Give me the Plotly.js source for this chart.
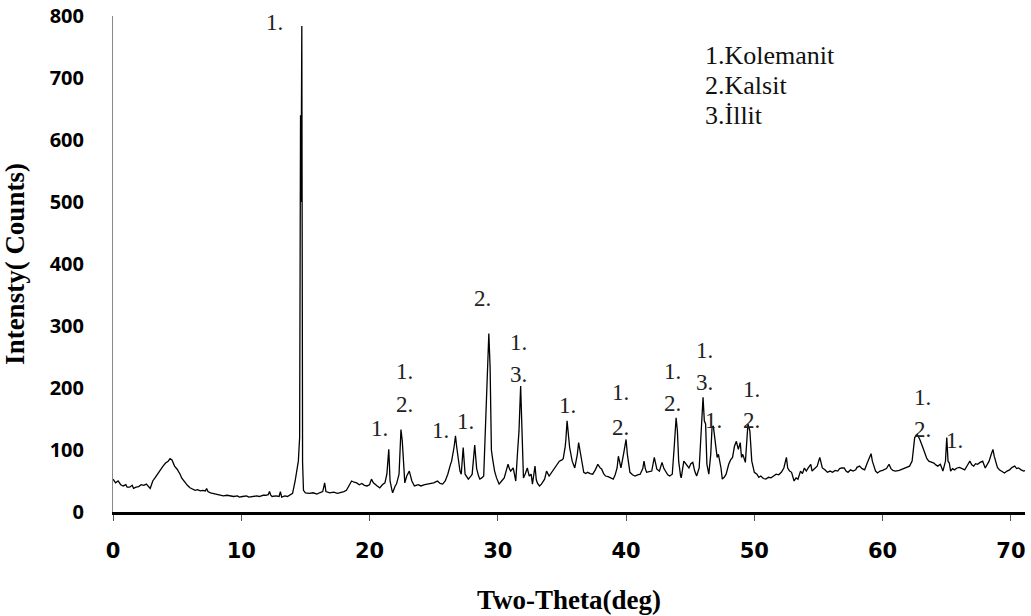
<!DOCTYPE html>
<html>
<head>
<meta charset="utf-8">
<script src="https://cdn.plot.ly/plotly-3.0.1.min.js"></script>
<style>html,body{margin:0;padding:0;background:#fff;}#chart{width:1031px;height:616px;}</style>
</head>
<body>
<div id="chart"></div>
<script>
// Two-theta (deg) and intensity (counts)
const twoTheta = [0.0,0.2,0.4,0.6,0.8,1.0,1.1,1.3,1.5,1.6,1.8,2.0,2.2,2.4,2.6,2.8,2.9,3.0,3.1,3.3,3.5,3.7,3.9,4.1,4.3,4.45,4.6,4.7,4.8,5.0,5.1,5.25,5.35,5.5,5.6,5.8,6.0,6.2,6.4,6.6,6.8,7.0,7.2,7.3,7.4,7.6,7.8,8.0,8.3,8.6,8.9,9.1,9.4,9.7,9.85,10.1,10.4,10.6,10.9,11.2,11.4,11.7,11.9,12.1,12.2,12.3,12.4,12.7,12.95,13.05,13.15,13.4,13.6,13.8,14.0,14.2,14.35,14.45,14.55,14.62,14.66,14.72,14.78,14.85,15.0,15.3,15.6,15.9,16.1,16.35,16.5,16.6,16.9,17.2,17.5,17.7,18.0,18.2,18.4,18.6,18.8,19.0,19.2,19.4,19.6,19.8,20.0,20.15,20.3,20.4,20.6,20.8,21.0,21.2,21.35,21.5,21.6,21.75,21.8,22.0,22.1,22.3,22.45,22.55,22.65,22.75,22.9,23.1,23.3,23.5,23.8,24.0,24.3,24.6,24.8,25.0,25.2,25.3,25.5,25.7,25.9,26.1,26.3,26.4,26.6,26.7,26.8,26.9,27.05,27.15,27.3,27.45,27.6,27.7,27.9,28.0,28.2,28.35,28.5,28.6,28.75,28.9,29.0,29.15,29.3,29.4,29.5,29.6,29.75,29.9,30.1,30.3,30.5,30.7,30.8,30.9,31.0,31.2,31.4,31.55,31.65,31.78,31.88,32.0,32.15,32.3,32.45,32.6,32.7,32.9,33.0,33.1,33.25,33.4,33.65,33.8,34.0,34.1,34.3,34.4,34.6,34.8,35.0,35.1,35.25,35.3,35.4,35.5,35.6,35.8,36.0,36.2,36.3,36.4,36.5,36.7,36.85,37.0,37.2,37.4,37.6,37.8,37.95,38.1,38.25,38.4,38.6,38.8,39.0,39.15,39.3,39.4,39.5,39.6,39.8,40.0,40.1,40.2,40.3,40.5,40.7,40.9,41.1,41.3,41.4,41.5,41.6,41.8,42.0,42.2,42.3,42.4,42.6,42.8,42.95,43.1,43.25,43.4,43.6,43.75,43.9,44.0,44.1,44.25,44.3,44.5,44.7,44.9,45.05,45.2,45.35,45.5,45.7,45.8,45.9,46.0,46.1,46.2,46.3,46.45,46.6,46.7,46.8,46.95,47.1,47.2,47.4,47.5,47.65,47.8,48.0,48.15,48.3,48.45,48.6,48.75,48.9,49.0,49.1,49.3,49.4,49.5,49.65,49.8,50.0,50.2,50.35,50.5,50.7,50.9,51.1,51.3,51.5,51.7,51.9,52.1,52.3,52.5,52.6,52.75,52.9,53.1,53.25,53.4,53.6,53.75,53.9,54.05,54.2,54.4,54.5,54.7,54.9,55.1,55.3,55.5,55.7,55.9,56.1,56.3,56.5,56.65,56.8,57.0,57.15,57.3,57.5,57.7,57.9,58.0,58.2,58.4,58.6,58.8,59.0,59.1,59.2,59.3,59.45,59.6,59.8,60.0,60.15,60.3,60.5,60.65,60.8,61.0,61.3,61.5,61.7,61.9,62.1,62.3,62.4,62.5,62.7,62.9,63.1,63.3,63.45,63.6,63.8,64.0,64.15,64.3,64.5,64.7,64.9,65.0,65.1,65.2,65.3,65.45,65.6,65.8,66.0,66.2,66.4,66.6,66.8,66.95,67.1,67.25,67.4,67.6,67.8,68.0,68.15,68.3,68.45,68.6,68.7,68.8,68.95,69.1,69.3,69.5,69.7,69.9,70.1,70.3,70.45,70.6,70.8,71.0,71.1];
const counts = [53,47,50,44,42,44,40,40,43,38,40,41,44,43,45,41,38,44,50,56,63,68,74,79,82,86,84,79,74,69,66,60,55,51,47,43,39,37,35,36,34,35,34,38,33,31,30,28,27,26,27,26,25,26,24,25,26,24,25,26,25,27,27,28,33,27,25,26,25,33,24,26,25,27,30,50,71,82,120,640,500,784,80,35,31,30,31,29,31,33,47,33,31,32,30,31,33,35,42,50,48,47,44,46,43,42,44,53,47,45,42,39,44,47,61,101,50,35,31,42,45,61,133,115,80,47,58,66,50,42,44,42,44,45,46,47,49,50,46,45,50,61,76,82,106,123,104,88,66,61,104,61,55,53,58,61,108,70,58,53,55,58,115,222,288,233,100,85,66,55,45,50,55,70,77,70,66,71,50,100,130,203,120,55,62,71,58,61,45,74,52,46,42,45,53,66,58,61,66,71,75,82,84,86,105,115,147,120,104,82,71,93,112,100,86,64,62,64,62,61,68,77,72,69,62,58,57,55,53,60,71,90,78,71,93,117,93,75,64,60,58,60,61,70,82,70,64,65,66,88,78,69,66,80,70,64,60,58,61,104,152,131,82,58,55,82,76,71,78,80,66,58,71,104,150,185,147,142,77,61,93,136,139,109,88,93,71,53,56,61,77,84,88,106,114,101,112,88,93,80,109,142,131,82,64,61,56,58,54,53,56,55,58,61,60,64,71,88,71,66,64,50,55,53,66,62,71,66,71,77,66,70,74,88,71,68,64,66,64,67,66,70,71,71,66,64,68,66,68,72,74,70,68,79,88,94,82,74,66,63,66,67,68,70,77,70,67,66,67,69,70,72,74,82,104,120,125,117,106,93,86,82,81,79,76,74,77,66,82,120,82,79,66,70,68,71,72,70,68,75,82,76,74,78,77,80,82,71,76,82,92,101,90,82,72,68,65,63,66,68,72,74,70,71,68,66,67];

// Peak labels (phase numbers) and their positions
const peakLabelX = [12.6,20.8,22.7,22.7,25.5,27.5,28.8,31.6,31.6,35.4,39.6,39.6,43.6,43.6,46.1,46.1,46.8,49.8,49.8,63.1,63.1,65.6];
const peakLabelY = [789,134,227,174,131,146,345,273,222,171,192,136,227,175,260,209,147,198,147,184,133,115];
const peakLabelText = ["1.","1.","1.","2.","1.","1.","2.","1.","3.","1.","1.","2.","1.","2.","1.","3.","1.","1.","2.","1.","2.","1."];

// Phase key
const phaseKey = ["1.Kolemanit","2.Kalsit","3.İllit"];
const phaseKeyY = [737,688,640];

const xTickVals = [0,10,20,30,40,50,60,70];
const yTickVals = [0,100,200,300,400,500,600,700,800];

const serif = "Liberation Serif, Times New Roman, serif";

const annotations = [];
for (let i = 0; i < peakLabelText.length; i++) {
  annotations.push({x: peakLabelX[i], y: peakLabelY[i], xref: 'x', yref: 'y', text: peakLabelText[i],
    showarrow: false, xanchor: 'center', yanchor: 'middle',
    font: {family: serif, size: 23, color: '#222'}});
}
for (let i = 0; i < phaseKey.length; i++) {
  annotations.push({x: 46.0, y: phaseKeyY[i], xref: 'x', yref: 'y', text: phaseKey[i],
    showarrow: false, xanchor: 'left', yanchor: 'middle',
    font: {family: serif, size: 26, color: '#111'}});
}

const trace = {x: twoTheta, y: counts, type: 'scatter', mode: 'lines',
  line: {color: '#000', width: 1.3}, hoverinfo: 'skip', cliponaxis: false};

const layout = {
  width: 1031, height: 616,
  margin: {l: 113, r: 6, t: 16, b: 104},
  paper_bgcolor: '#fff', plot_bgcolor: '#fff',
  showlegend: false,
  xaxis: {range: [0, 71.1], tickvals: xTickVals, ticktext: xTickVals.map(String),
    showgrid: false, zeroline: false, showline: true, linecolor: '#000', linewidth: 3,
    ticks: 'outside', ticklen: 6, tickwidth: 1, tickcolor: '#555',
    ticklabelstandoff: 12,
    tickfont: {family: 'DejaVu Sans', size: 21, color: '#000', weight: 'bold'},
    title: {text: 'Two-Theta(deg)', standoff: 28, font: {family: serif, size: 27, color: '#000', weight: 'bold'}}},
  yaxis: {range: [0, 800], tickvals: yTickVals, ticktext: yTickVals.map(String),
    showgrid: false, zeroline: false, showline: true, linecolor: '#888', linewidth: 1,
    ticks: '', ticklabelstandoff: 24, ticklabeloverflow: 'allow',
    tickfont: {family: 'Open Sans', size: 20, color: '#000', weight: 'bold'},
    title: {text: 'Intensty( Counts)', standoff: 18, font: {family: serif, size: 27, color: '#000', weight: 'bold'}}},
  annotations: annotations
};

Plotly.newPlot('chart', [trace], layout, {displayModeBar: false, staticPlot: true});
</script>
</body>
</html>
